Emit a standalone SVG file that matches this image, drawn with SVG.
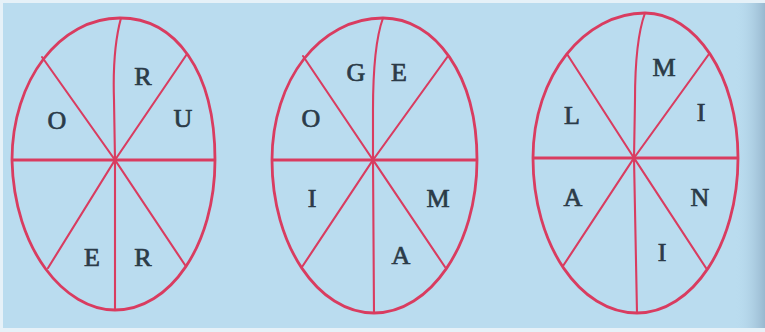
<svg xmlns="http://www.w3.org/2000/svg" width="765" height="332" viewBox="0 0 765 332">
<defs>
<linearGradient id="shade" x1="0" y1="0" x2="1" y2="0">
<stop offset="0" stop-color="#b9dbee" stop-opacity="0"/>
<stop offset="1" stop-color="#98b8cf" stop-opacity="1"/>
</linearGradient>
<style>
.rim{fill:none;stroke:#d93c60;stroke-width:2.8}
.sp{fill:none;stroke:#d93c60;stroke-width:2.1;stroke-linecap:round}
.hz{fill:none;stroke:#d93c60;stroke-width:2.8}
.lt{font-family:"Liberation Serif","DejaVu Serif",serif;font-size:26px;fill:#2b3b48;stroke:#2b3b48;stroke-width:0.7;text-anchor:middle}
</style>
</defs>
<rect width="765" height="332" fill="#badcef"/>
<rect x="735" y="0" width="30" height="332" fill="url(#shade)"/>
<rect x="0" y="0" width="765" height="3" fill="#e6f1f8"/>
<rect x="0" y="0" width="3" height="332" fill="#e6f1f8"/>
<rect x="0" y="328" width="765" height="4" fill="#e6f1f8"/>
<g id="wheel1">
<path class="rim" d="M12,160 C12,80 60,18 120,18 C175,18 215,70 215,160 C215,245 170,310 115,310 C65,310 14,250 12,160 Z"/>
<path class="hz" d="M12,160 L215,160"/>
<path class="sp" d="M42,57 L115,160 L187,54 M48,268 L115,160 L185,265 M115,160 L115,310 M121,18 C115,40 113,70 114,100 L115,160"/>
<text class="lt" x="143" y="85">R</text>
<text class="lt" x="183" y="127">U</text>
<text class="lt" x="57" y="129">O</text>
<text class="lt" x="92" y="266">E</text>
<text class="lt" x="143" y="266">R</text>
</g>
<g id="wheel2">
<path class="rim" d="M272,160 C272,80 320,18 383,18 C435,18 477,75 477,160 C477,245 430,313 374,313 C318,313 272,245 272,160 Z"/>
<path class="hz" d="M272,160 L477,160"/>
<path class="sp" d="M303,56 L373,160 L448,56 M302,267 L373,160 L445,267 M373,160 L374,313 M383,18 C375,40 373,80 373,110 L373,160"/>
<text class="lt" x="356" y="81">G</text>
<text class="lt" x="399" y="81">E</text>
<text class="lt" x="311" y="127">O</text>
<text class="lt" x="312" y="207">I</text>
<text class="lt" x="438" y="207">M</text>
<text class="lt" x="401" y="264">A</text>
</g>
<g id="wheel3">
<path class="rim" d="M533,158 C533,75 585,13 645,13 C695,13 738,75 738,158 C738,245 692,313 637,313 C580,313 533,245 533,158 Z"/>
<path class="hz" d="M533,158 L738,158"/>
<path class="sp" d="M567,54 L634,158 L709,54 M563,266 L634,158 L706,268 M634,158 L637,313 M645,13 C637,35 635,70 635,100 L634,158"/>
<text class="lt" x="664" y="76">M</text>
<text class="lt" x="701" y="121">I</text>
<text class="lt" x="572" y="124">L</text>
<text class="lt" x="573" y="206">A</text>
<text class="lt" x="700" y="206">N</text>
<text class="lt" x="662" y="261">I</text>
</g>
</svg>
